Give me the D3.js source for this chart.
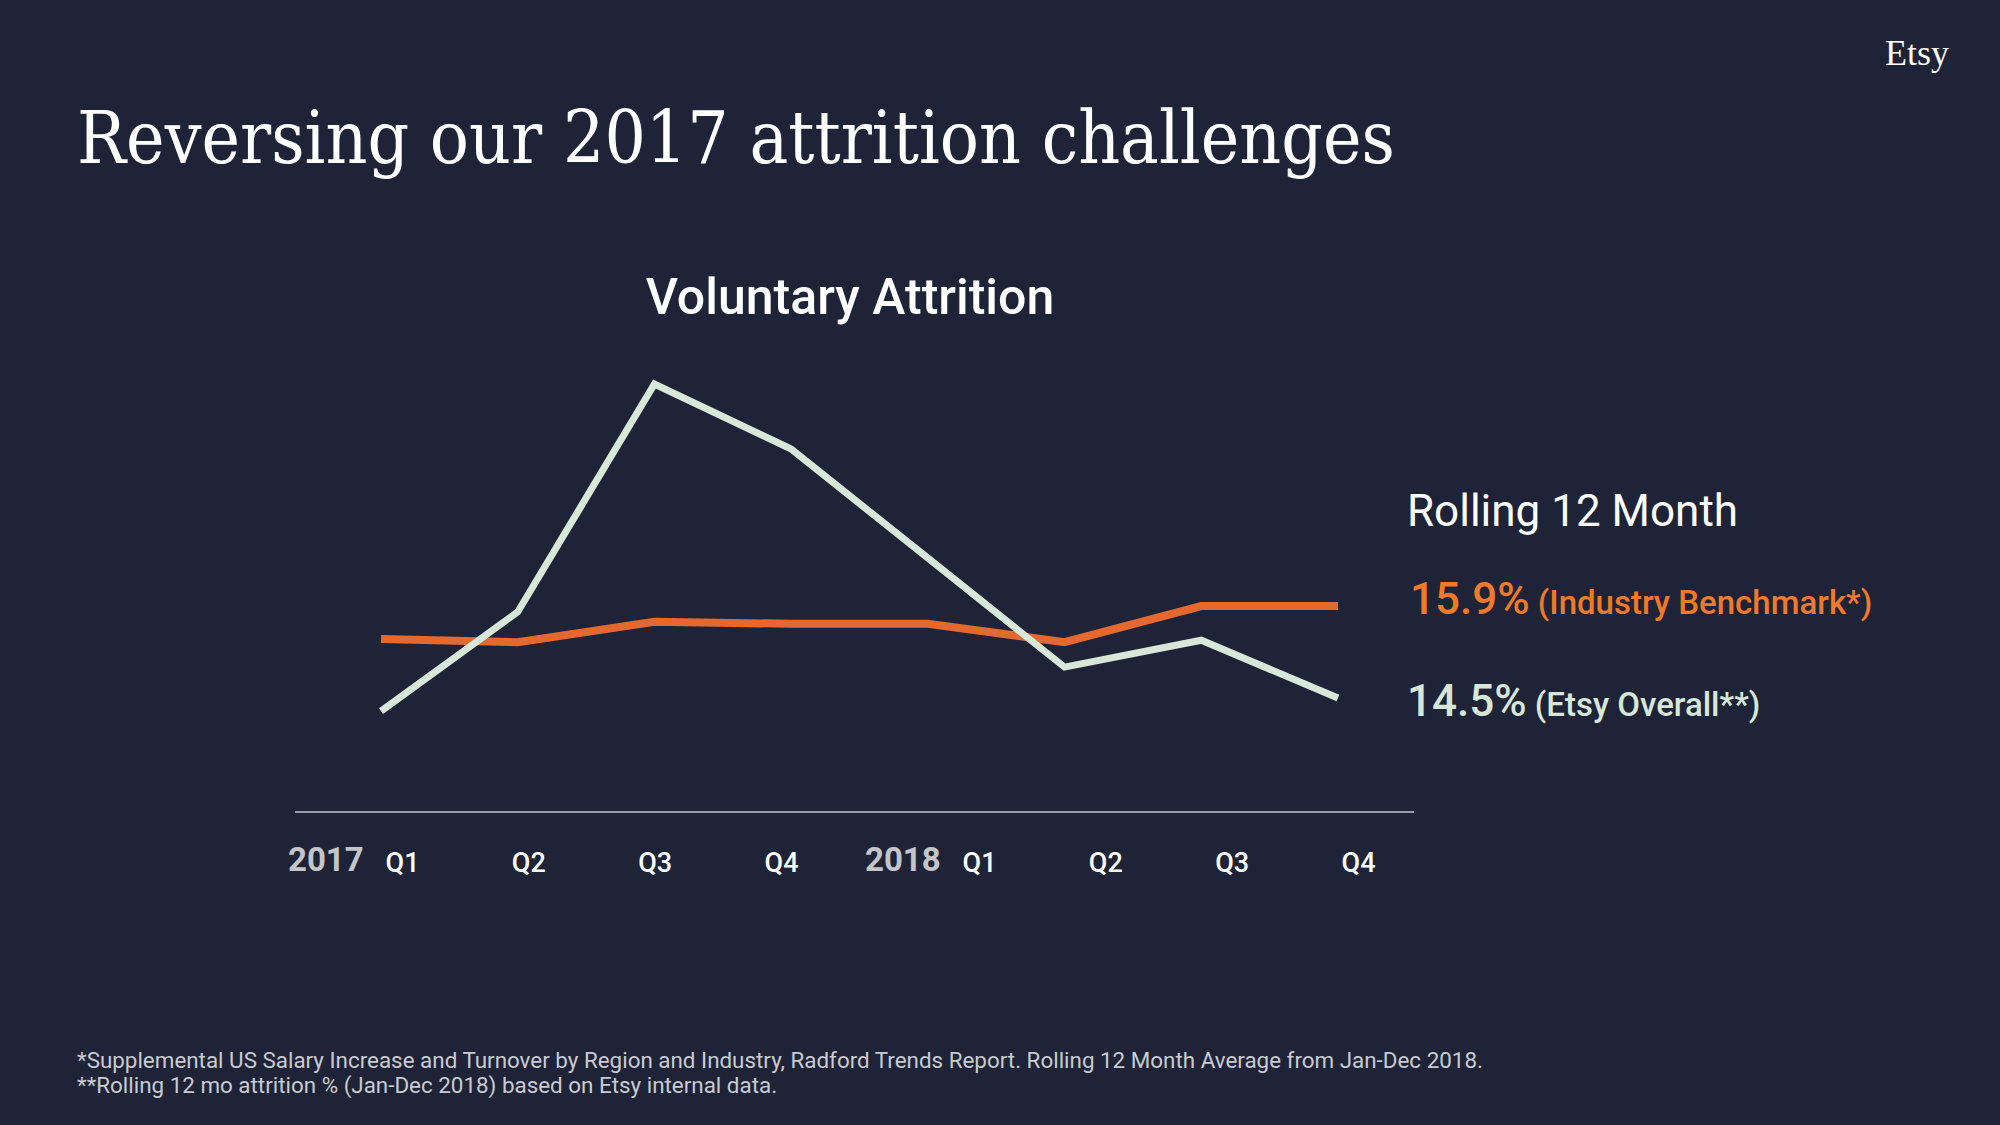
<!DOCTYPE html>
<html>
<head>
<meta charset="utf-8">
<script src="https://cdn.jsdelivr.net/npm/d3@7/dist/d3.min.js"></script>
<style>
html,body{margin:0;padding:0;background:#1e2337;}
svg{display:block;}
</style>
</head>
<body>
<svg id="chart" width="2000" height="1125"></svg>
<script>
// ---- data ----
const quarters = ["2017 Q1","2017 Q2","2017 Q3","2017 Q4","2018 Q1","2018 Q2","2018 Q3","2018 Q4"];
const years = ["2017","2018"];
const quarterLabels = ["Q1","Q2","Q3","Q4"];
const etsyOverall = [14.30, 15.81, 19.28, 18.29, 16.63, 14.97, 15.38, 14.50];
const industryBenchmark = [15.40, 15.35, 15.66, 15.63, 15.63, 15.35, 15.90, 15.90];
const legendItems = [
  {value: "15.9%", label: "(Industry Benchmark*)", key: "industry"},
  {value: "14.5%", label: "(Etsy Overall**)", key: "etsy"}
];
const titleText = "Reversing our 2017 attrition challenges";
const chartTitle = "Voluntary Attrition";
const legendTitle = "Rolling 12 Month";
const footnotes = [
  "*Supplemental US Salary Increase and Turnover by Region and Industry, Radford Trends Report. Rolling 12 Month Average from Jan-Dec 2018.",
  "**Rolling 12 mo attrition % (Jan-Dec 2018) based on Etsy internal data."
];

// ---- style ----
const colors = {
  bg: "#1e2337",
  etsyLine: "#d8e8d8",
  etsyText: "#d8e8d8",
  industryLine: "#e5692f",
  industryText: "#f07a28",
  axis: "#9a9ca4",
  year: "#c4c5c9",
  white: "#ffffff",
  foot: "#c9cbd1"
};

const svg = d3.select("#chart");
svg.append("rect").attr("width", 2000).attr("height", 1125).attr("fill", colors.bg);

// Title
const title = svg.append("text")
  .attr("transform", "translate(77,163) scale(1,1.12)")
  .attr("fill", colors.white)
  .style("font-family", "'DejaVu Serif', serif")
  .style("font-size", "72px")
  .text(titleText);
const tw = title.node().getComputedTextLength();
title.style("font-size", (72 * 1318 / tw).toFixed(2) + "px");

// Etsy logo
svg.append("text")
  .attr("x", 1949).attr("y", 65)
  .attr("text-anchor", "end")
  .attr("fill", colors.white)
  .style("font-family", "'Liberation Serif', serif")
  .style("font-size", "36px")
  .text("Etsy");

// Chart title
svg.append("text")
  .attr("x", 850).attr("y", 314)
  .attr("text-anchor", "middle")
  .attr("fill", colors.white)
  .style("font-family", "Roboto, sans-serif")
  .style("font-weight", 500)
  .style("font-size", "50px")
  .text(chartTitle);

// Scales
const x = d3.scalePoint().domain(quarters).range([381, 1338]);
const y = d3.scaleLinear().domain([14.5, 19.28]).range([698, 384]);

// baseline axis
svg.append("line")
  .attr("x1", 295).attr("x2", 1414)
  .attr("y1", 812).attr("y2", 812)
  .attr("stroke", colors.axis).attr("stroke-width", 2);

// Axis labels: years band + quarter point scale within
const yearScale = d3.scaleBand().domain(years).range([288, 1442]).paddingInner(0);
const qScale = d3.scalePoint().domain(quarterLabels).range([114, 493]);

const labelG = svg.append("g");
years.forEach(yr => {
  const x0 = yearScale(yr);
  labelG.append("text")
    .attr("x", x0).attr("y", 871)
    .attr("fill", colors.year)
    .style("font-family", "Roboto, sans-serif")
    .style("font-weight", 700)
    .style("font-size", "33px")
    .text(yr);
  const ax = d3.axisBottom(qScale).tickSize(0).tickPadding(0);
  const g = labelG.append("g").attr("transform", `translate(${x0},848)`).call(ax);
  g.select(".domain").remove();
  g.selectAll("text")
    .attr("fill", colors.white)
    .attr("dy", 0)
    .attr("y", 24)
    .style("font-family", "Roboto, sans-serif")
    .style("font-weight", 500)
    .style("font-size", "27px");
});

// Lines
const line = d3.line().x((d, i) => x(quarters[i])).y(d => y(d));
svg.append("path")
  .datum(industryBenchmark)
  .attr("d", line)
  .attr("fill", "none")
  .attr("stroke", colors.industryLine)
  .attr("stroke-width", 8)
  .attr("stroke-linejoin", "miter")
  .attr("stroke-linecap", "butt");
svg.append("path")
  .datum(etsyOverall)
  .attr("d", line)
  .attr("fill", "none")
  .attr("stroke", colors.etsyLine)
  .attr("stroke-width", 7)
  .attr("stroke-linejoin", "miter")
  .attr("stroke-linecap", "butt");

// Legend
svg.append("text")
  .attr("x", 1407).attr("y", 526)
  .attr("fill", colors.white)
  .style("font-family", "Roboto, sans-serif")
  .style("font-size", "44px")
  .text(legendTitle);

const legendY = [614, 716];
legendItems.forEach((it, i) => {
  const c = it.key === "industry" ? colors.industryText : colors.etsyText;
  const t = svg.append("text")
    .attr("x", it.key === "industry" ? 1410 : 1407).attr("y", legendY[i])
    .attr("fill", c)
    .style("font-family", "Roboto, sans-serif")
    .style("font-weight", 500);
  t.append("tspan").style("font-size", "44px").text(it.value);
  t.append("tspan").style("font-size", "33px").text(" " + it.label);
});

// Footnotes
footnotes.forEach((f, i) => {
  svg.append("text")
    .attr("x", 77).attr("y", 1068 + i * 25)
    .attr("fill", colors.foot)
    .style("font-family", "Roboto, sans-serif")
    .style("font-size", "22.4px")
    .text(f);
});
</script>
</body>
</html>
